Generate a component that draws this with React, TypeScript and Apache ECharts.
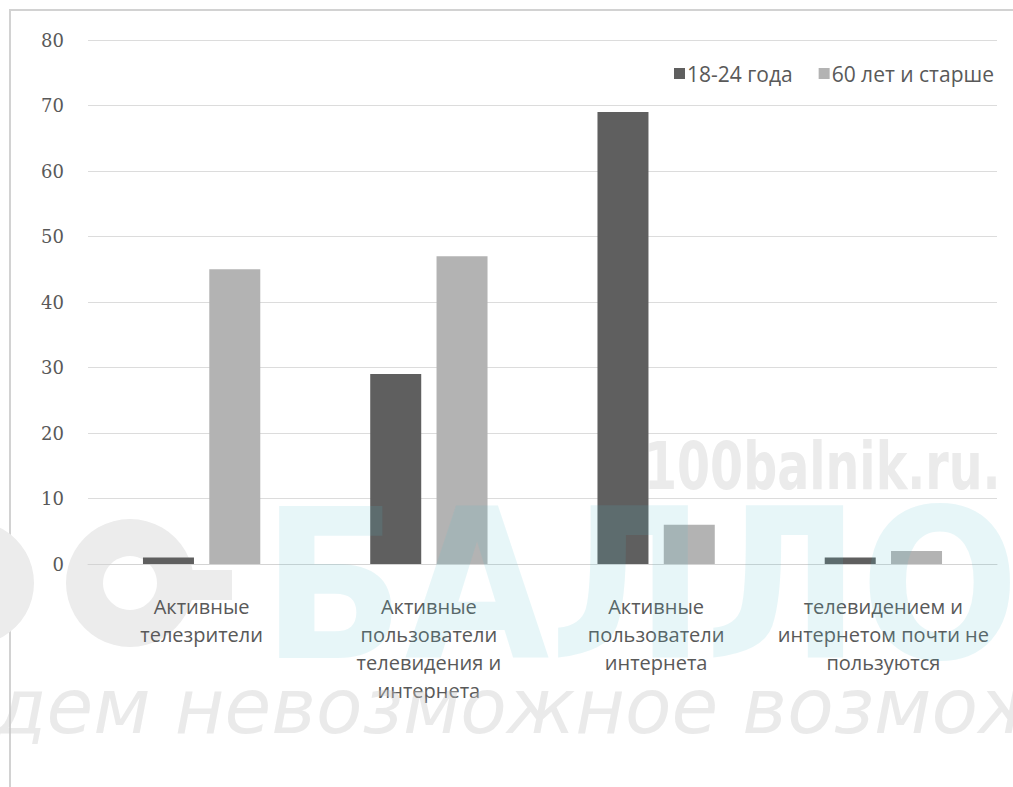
import React, { useEffect, useRef } from "react";
import * as echarts from "echarts";

const categories = [
  "Активные\nтелезрители",
  "Активные\nпользователи\nтелевидения и\nинтернета",
  "Активные\nпользователи\nинтернета",
  "телевидением и\nинтернетом почти не\nпользуются",
];
const seriesNames = ["18-24 года", "60 лет и старше"];
const young = [1, 29, 69, 1];
const old = [45, 47, 6, 2];
const yTicks = { min: 0, max: 80, interval: 10 };

const watermarkSite = "100balnik.ru.";
const watermarkBig = "БАЛЛО";
const watermarkSlogan = "дем невозможное возмож";

export default function App() {
  const ref = useRef<HTMLDivElement>(null);
  useEffect(() => {
    if (!ref.current) return;
    const chart = echarts.init(ref.current, null, { renderer: "svg" });
    const labelFont = "'Open Sans', 'Noto Sans', sans-serif";
    chart.setOption({
      animation: false,
      backgroundColor: "#ffffff",
      color: ["#5f5f5f", "#b3b3b3"],
      legend: {
        right: 14,
        top: 58,
        itemWidth: 11,
        itemHeight: 11,
        itemGap: 26,
        icon: "rect",
        textStyle: { color: "#595959", fontSize: 21, fontFamily: labelFont, padding: [0, 0, 0, -3] },
        data: seriesNames,
      },
      grid: { left: 88, right: 16, top: 40, bottom: 223, containLabel: false },
      xAxis: {
        type: "category",
        data: categories,
        axisLine: { show: true, lineStyle: { color: "#d4d4d4", width: 1 } },
        axisTick: { show: false },
        axisLabel: {
          color: "#595959",
          fontSize: 20,
          lineHeight: 28,
          margin: 28,
          interval: 0,
          fontFamily: labelFont,
          align: "center",
        },
      },
      yAxis: {
        type: "value",
        min: yTicks.min,
        max: yTicks.max,
        interval: yTicks.interval,
        axisLine: { show: false },
        axisTick: { show: false },
        splitLine: { lineStyle: { color: "#dcdcdc", width: 1 } },
        axisLabel: {
          color: "#595959",
          fontSize: 18,
          margin: 24,
          fontFamily: "'DejaVu Serif', serif",
        },
      },
      graphic: [
        {
          type: "rect",
          z: -10,
          silent: true,
          shape: { x: 10, y: 10, width: 1200, height: 1000 },
          style: { fill: "none", stroke: "#d2d2d2", lineWidth: 2 },
        },
        {
          type: "ring",
          z: -5,
          silent: true,
          shape: { cx: 130, cy: 583, r: 64, r0: 27 },
          style: { fill: "#ececec" },
        },
        {
          type: "ring",
          z: -5,
          silent: true,
          shape: { cx: -28, cy: 583, r: 62, r0: 26 },
          style: { fill: "#ececec" },
        },
        {
          type: "rect",
          z: -5,
          silent: true,
          shape: { x: 162, y: 570, width: 70, height: 30 },
          style: { fill: "#ececec" },
        },
        {
          type: "text",
          z: -5,
          silent: true,
          x: 644,
          y: 434,
          scaleX: 0.72,
          style: {
            text: watermarkSite,
            fill: "#ebebeb",
            font: "bold 66px 'DejaVu Sans', sans-serif",
          },
        },
        {
          type: "text",
          z: 50,
          silent: true,
          x: 262,
          y: 482,
          style: {
            text: watermarkBig,
            fill: "rgba(82,188,208,0.14)",
            font: "bold 208px 'DejaVu Sans Condensed', 'DejaVu Sans', sans-serif",
          },
        },
        {
          type: "text",
          z: 50,
          silent: true,
          x: -6,
          y: 668,
          style: {
            text: watermarkSlogan,
            fill: "rgba(200,200,200,0.38)",
            font: "italic 76px 'DejaVu Sans', sans-serif",
          },
        },
      ],
      series: [
        {
          name: seriesNames[0],
          type: "bar",
          data: young,
          barWidth: 51,
          barGap: "30%",
          itemStyle: { color: "#5f5f5f" },
          z: 2,
        },
        {
          name: seriesNames[1],
          type: "bar",
          data: old,
          barWidth: 51,
          barGap: "30%",
          itemStyle: { color: "#b3b3b3" },
          z: 2,
        },
      ],
    });
    return () => chart.dispose();
  }, []);
  return (
    <div
      ref={ref}
      style={{ position: "fixed", left: 0, top: 0, width: 1013, height: 787 }}
    />
  );
}
